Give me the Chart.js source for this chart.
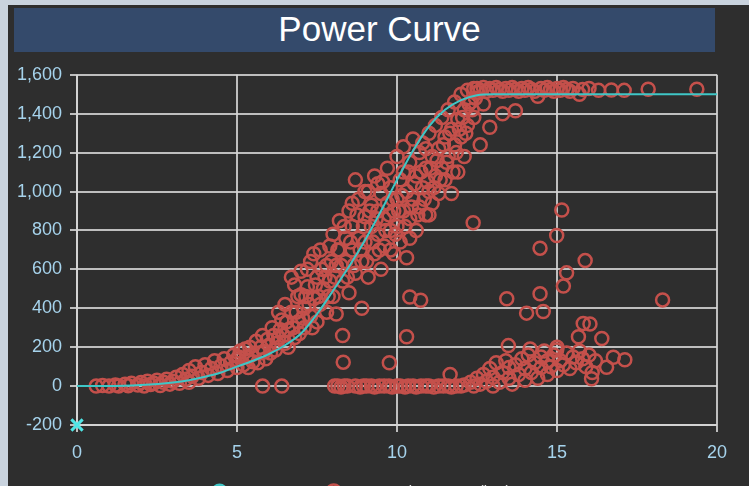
<!DOCTYPE html>
<html>
<head>
<meta charset="utf-8">
<script src="https://cdn.jsdelivr.net/npm/chart.js@4.4.1/dist/chart.umd.min.js"></script>
<style>
  html, body { margin: 0; padding: 0; overflow: hidden; }
  body { width: 749px; height: 486px; background: #c9d3de; position: relative; font-family: "Liberation Sans", Arial, sans-serif; }
  #panel { position: absolute; left: 8px; top: 5px; right: 0; bottom: 0; background: #2e2e2e; }
  #titleBar { position: absolute; left: 14px; top: 8px; width: 701px; height: 44px; background: #344a6b;
    color: #fff; font-size: 35px; line-height: 42px; text-align: center; padding-left: 30px; box-sizing: border-box; }
  #chartBox { position: absolute; left: 8px; top: 56px; width: 741px; height: 453px; }
</style>
</head>
<body>
<div id="panel"></div>
<div id="titleBar">Power Curve</div>
<div id="chartBox"><canvas id="powerChart"></canvas></div>
<script>
// reference power curve (wind speed m/s -> kW)
const curveSpeed = [0, 1, 2, 3, 3.5, 4, 4.5, 5, 5.5, 6, 6.5, 7, 7.5, 8, 8.5, 9, 9.5, 10, 10.5, 11, 11.5, 12, 12.5, 13, 14, 15, 16, 17, 18, 19, 20];
const curveKW = [0, 0, 5, 18, 30, 48, 70, 100, 130, 165, 210, 270, 370, 490, 615, 750, 900, 1060, 1210, 1335, 1420, 1470, 1495, 1500, 1500, 1500, 1500, 1500, 1500, 1500, 1500];

// measured turbine readings [wind speed, power]
const lowWind = [
  [0.6, 0], [0.8, 3], [1.0, 0], [1.2, 6], [1.3, 0], [1.5, 10], [1.6, 2], [1.7, 14], [1.9, 5], [2.0, 18],
  [2.1, 0], [2.2, 25], [2.3, 8], [2.4, 15], [2.5, 30], [2.6, 3], [2.7, 20], [2.8, 35], [2.9, 10], [3.0, 25],
  [3.1, 45], [3.2, 15], [3.3, 60], [3.4, 35], [3.5, 80], [3.5, 20], [3.6, 50], [3.7, 100], [3.8, 40], [3.9, 70],
  [4.0, 110], [4.1, 55], [4.2, 90], [4.3, 130], [4.4, 65], [4.5, 105], [4.6, 140], [4.7, 80], [4.8, 120], [4.9, 160],
  [5.0, 95], [5.0, 135]
];
const midWind = [
  [5.1, 180], [5.2, 110], [5.3, 150], [5.4, 200], [5.5, 125], [5.6, 230], [5.7, 170], [5.8, 260], [5.8, 0], [5.9, 140],
  [6.0, 210], [6.1, 300], [6.2, 185], [6.3, 250], [6.4, 340], [6.4, 0], [6.5, 220], [6.5, 420], [6.6, 290], [6.7, 380],
  [6.7, 560], [6.8, 250], [6.9, 460], [6.9, 330], [7.0, 590], [7.1, 400], [7.1, 300], [7.2, 510], [7.3, 360], [7.3, 640],
  [7.4, 450], [7.5, 560], [7.5, 330], [7.6, 700], [7.6, 420], [7.7, 500], [7.8, 620], [7.8, 380], [7.9, 720], [7.9, 540],
  [5.05, 150], [5.25, 190], [5.35, 95], [5.45, 160], [5.65, 120], [5.75, 200], [5.85, 175], [5.95, 240], [6.05, 170], [6.15, 260],
  [6.25, 220], [6.35, 290], [6.45, 260], [6.55, 330], [6.6, 200], [6.75, 300], [6.85, 380], [6.95, 270], [7.05, 350], [7.15, 460],
  [7.25, 420], [7.35, 300], [7.45, 520], [7.55, 460], [7.65, 600], [7.75, 560], [7.85, 460], [7.95, 640], [6.3, 380], [6.8, 520],
  [7.0, 470], [7.2, 600], [7.4, 680]
];
const highWind = [
  [8.0, 460], [8.0, 780], [8.1, 620], [8.1, 370], [8.2, 700], [8.2, 850], [8.3, 540], [8.3, 260], [8.4, 760], [8.4, 640],
  [8.5, 900], [8.5, 480], [8.6, 700], [8.6, 820], [8.7, 580], [8.7, 1060], [8.8, 760], [8.8, 960], [8.9, 640], [8.9, 400],
  [9.0, 870], [9.0, 740], [9.1, 1000], [9.1, 560], [9.2, 820], [9.2, 930], [9.3, 680], [9.3, 1080], [9.4, 780], [9.4, 900],
  [9.5, 600], [9.5, 990], [9.6, 860], [9.6, 720], [9.7, 1120], [9.7, 940], [9.8, 800], [9.8, 1020], [9.9, 680], [9.9, 900],
  [10.0, 1180], [10.0, 960], [10.0, 820], [10.1, 1060], [10.1, 740], [10.2, 1230], [10.2, 900], [10.3, 1000], [10.3, 660], [10.4, 1150],
  [10.4, 860], [10.5, 1270], [10.5, 960], [10.6, 1080], [10.6, 800], [10.7, 1200], [10.7, 920], [10.8, 1020], [10.8, 1250], [10.9, 880],
  [10.9, 1120], [11.0, 1000], [11.0, 1300], [11.1, 1180], [11.1, 940], [11.2, 1080], [11.2, 1340], [11.3, 1220], [11.3, 990], [11.4, 1120],
  [11.4, 1380], [11.5, 1280], [11.5, 1060], [11.6, 1180], [11.6, 1420], [11.7, 990], [11.7, 1320], [11.8, 1240], [11.8, 1460], [11.9, 1100],
  [11.9, 1370], [12.0, 1500], [12.0, 1280], [12.1, 1420], [12.1, 1180], [12.2, 1520], [12.2, 1340], [12.3, 1460], [12.4, 1530], [12.4, 1380],
  [12.5, 1510], [12.6, 1240], [12.7, 1450], [12.9, 1330], [13.3, 1400], [13.7, 1415], [14.4, 1490],
  [8.05, 560], [8.15, 700], [8.25, 620], [8.35, 820], [8.45, 560], [8.55, 740], [8.65, 620], [8.75, 880], [8.85, 700], [8.95, 820],
  [9.05, 640], [9.15, 900], [9.25, 740], [9.35, 860], [9.45, 700], [9.55, 1050], [9.65, 800], [9.75, 880], [9.85, 960], [9.95, 780],
  [10.05, 900], [10.15, 980], [10.25, 820], [10.35, 1100], [10.45, 920], [10.55, 1040], [10.65, 880], [10.75, 1100], [10.85, 960], [10.95, 1050],
  [11.05, 1120], [11.15, 1020], [11.25, 1160], [11.35, 1060], [11.45, 1240], [11.55, 1150], [11.65, 1300], [11.75, 1100], [11.85, 1200], [11.95, 1320],
  [12.05, 1380], [12.15, 1300], [12.25, 1450], [12.35, 1420], [12.45, 1480], [9.0, 1000], [9.4, 1040], [10.2, 1100], [10.9, 1220], [8.6, 940],
  [9.8, 700], [10.4, 760], [11.0, 880]
];
const ratedWind = [
  [12.5, 1530], [12.6, 1520], [12.7, 1535], [12.8, 1515], [12.9, 1530], [13.0, 1520], [13.1, 1535], [13.2, 1525], [13.3, 1515], [13.4, 1530],
  [13.5, 1520], [13.6, 1535], [13.7, 1525], [13.8, 1515], [13.9, 1530], [14.0, 1520], [14.1, 1535], [14.2, 1525], [14.3, 1515], [14.5, 1530],
  [14.6, 1520], [14.7, 1535], [14.8, 1525], [14.9, 1515], [15.0, 1530], [15.1, 1520], [15.2, 1535], [15.3, 1525], [15.4, 1515], [15.5, 1530],
  [15.7, 1500], [15.8, 1525], [16.0, 1530], [16.3, 1520], [16.7, 1522], [17.1, 1520], [17.85, 1526], [19.37, 1526]
];
const stopped = [
  [8.05, 0], [8.15, 0], [8.25, -5], [8.35, 0], [8.45, 0], [8.7, 0], [8.85, -5], [8.95, 0], [9.05, 0], [9.2, 0],
  [9.3, -5], [9.45, 0], [9.6, 0], [9.75, 0], [9.85, -5], [10.0, 0], [10.1, 0], [10.25, -5], [10.35, 0], [10.5, 0],
  [10.6, -5], [10.75, 0], [10.9, 0], [11.0, 0], [11.15, -5], [11.3, 0], [11.45, 0], [11.6, 0], [11.7, -5], [11.85, 0], [12.0, 0]
];
const curtailed = [
  [12.1, 5], [12.3, 20], [12.4, 0], [12.5, 40], [12.6, 10], [12.7, 60], [12.8, 25], [12.9, 90], [13.0, 0], [13.0, 45],
  [13.1, 120], [13.2, 20], [13.3, 70], [13.4, 130], [13.5, 40], [13.5, 95], [13.6, 10], [13.7, 110], [13.8, 60], [13.9, 140],
  [14.0, 30], [14.0, 90], [14.1, 160], [14.2, 70], [14.3, 120], [14.4, 40], [14.5, 150], [14.5, 95], [14.6, 180], [14.7, 60],
  [14.7, 130], [14.8, 100], [14.9, 160], [15.0, 80], [15.0, 200], [15.1, 130], [15.2, 110], [15.3, 170], [15.4, 90], [15.5, 150],
  [15.6, 120], [15.7, 180], [15.8, 140], [15.9, 100], [16.0, 160], [16.1, 70], [16.2, 130]
];
const outliers = [
  [15.15, 905], [12.38, 840], [14.99, 774], [14.47, 709], [15.88, 645], [15.3, 582], [15.2, 514], [14.47, 475], [13.43, 449], [10.4, 458],
  [10.74, 441], [14.05, 375], [14.57, 383], [18.3, 443], [15.82, 322], [16.03, 319], [15.67, 254], [16.4, 245], [10.3, 254], [13.48, 208],
  [8.32, 123], [9.76, 120], [11.66, 60], [17.12, 135], [16.76, 148], [16.55, 97], [16.08, 38], [14.16, 191], [14.99, 186]
];

const yTicks = [-200, 0, 200, 400, 600, 800, 1000, 1200, 1400, 1600];
const xTicks = [0, 5, 10, 15, 20];

const readings = [].concat(lowWind, midWind, highWind, ratedWind, stopped, curtailed, outliers);

const gridColor = 'rgba(215,215,215,0.85)';
const tickColor = '#a6d3ec';

new Chart(document.getElementById('powerChart'), {
  type: 'scatter',
  data: {
    datasets: [
      {
        label: 'Power Curve',
        data: curveSpeed.map((s, i) => ({ x: s, y: curveKW[i] })),
        showLine: true,
        borderColor: '#3fc6c6',
        backgroundColor: '#3fc6c6',
        borderWidth: 2,
        pointRadius: 0,
        cubicInterpolationMode: 'monotone'
      },
      {
        label: 'SE01 Active Power (kW)',
        data: readings.map(r => ({ x: r[0], y: r[1] })),
        pointStyle: 'circle',
        pointRadius: 6.5,
        borderWidth: 2.5,
        borderColor: '#c4504b',
        backgroundColor: 'rgba(0,0,0,0)'
      },
      {
        label: 'origin',
        data: [{ x: 0, y: -200 }],
        pointStyle: 'crossRot',
        pointRadius: 8,
        borderWidth: 3,
        borderColor: '#4fe6e6',
        clip: false
      }
    ]
  },
  options: {
    responsive: true,
    maintainAspectRatio: false,
    animation: false,
    layout: { padding: { top: 16, right: 32, left: 0, bottom: 0 } },
    plugins: {
      title: { display: false },
      tooltip: { enabled: false },
      legend: {
        position: 'bottom',
        labels: {
          usePointStyle: true,
          boxWidth: 10,
          boxHeight: 10,
          color: '#e6e6e6',
          font: { size: 15, family: 'Liberation Sans' },
          filter: item => item.text !== 'origin'
        }
      }
    },
    scales: {
      x: {
        type: 'linear',
        min: 0,
        max: 20,
        afterFit: scale => { scale.height = 49; },
        afterBuildTicks: scale => { scale.ticks = xTicks.map(v => ({ value: v })); },
        ticks: { color: tickColor, padding: 10, font: { size: 18, family: 'Liberation Sans' } },
        grid: { color: gridColor, lineWidth: 2, tickLength: 7 },
        border: { color: gridColor, width: 2 }
      },
      y: {
        min: -200,
        max: 1600,
        afterFit: scale => { scale.width = 69; },
        afterBuildTicks: scale => { scale.ticks = yTicks.map(v => ({ value: v })); },
        ticks: {
          color: tickColor,
          padding: 8,
          font: { size: 18, family: 'Liberation Sans' },
          callback: v => v.toLocaleString('en-US')
        },
        grid: { color: gridColor, lineWidth: 2, tickLength: 7 },
        border: { color: gridColor, width: 2 }
      }
    }
  }
});
</script>
</body>
</html>
